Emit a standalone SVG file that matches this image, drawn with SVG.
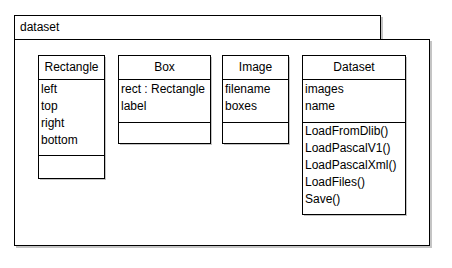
<svg xmlns="http://www.w3.org/2000/svg" width="452" height="268" viewBox="0 0 452 268">
  <style>
    .frame { fill: #ffffff; stroke: #000000; stroke-width: 1; }
    .shadow { fill: #c4c4c4; stroke: none; }
    .sep { stroke: #000000; stroke-width: 1; }
    text { font-family: "Liberation Sans", Arial, sans-serif; font-size: 12px; fill: #000000; }
    .title { text-anchor: middle; }
  </style>
  <rect width="452" height="268" fill="#ffffff"/>

  <!-- package "dataset" -->
  <g id="package-dataset">
    <rect class="shadow" x="16" y="17" width="367" height="24"/>
    <rect class="frame" x="14.5" y="15.5" width="366" height="24"/>
    <rect class="shadow" x="16" y="41" width="416" height="207"/>
    <rect class="frame" x="14.5" y="39.5" width="415" height="206"/>
    <text x="20" y="31">dataset</text>
  </g>

  <!-- class Rectangle -->
  <g id="class-rectangle">
    <rect class="shadow" x="40" y="57" width="66" height="123"/>
    <rect class="frame" x="38.5" y="55.5" width="66" height="123"/>
    <line class="sep" x1="38.5" y1="79.5" x2="104.5" y2="79.5"/>
    <line class="sep" x1="38.5" y1="155.5" x2="104.5" y2="155.5"/>
    <text class="title" x="71.5" y="71">Rectangle</text>
    <text x="41" y="93">left</text>
    <text x="41" y="110">top</text>
    <text x="41" y="127">right</text>
    <text x="41" y="144">bottom</text>
  </g>

  <!-- class Box -->
  <g id="class-box">
    <rect class="shadow" x="120" y="57" width="92" height="88"/>
    <rect class="frame" x="118.5" y="55.5" width="92" height="88"/>
    <line class="sep" x1="118.5" y1="79.5" x2="210.5" y2="79.5"/>
    <line class="sep" x1="118.5" y1="122.5" x2="210.5" y2="122.5"/>
    <text class="title" x="164.5" y="71">Box</text>
    <text x="121" y="93">rect : Rectangle</text>
    <text x="121" y="110">label</text>
  </g>

  <!-- class Image -->
  <g id="class-image">
    <rect class="shadow" x="224" y="57" width="66" height="88"/>
    <rect class="frame" x="222.5" y="55.5" width="66" height="88"/>
    <line class="sep" x1="222.5" y1="79.5" x2="288.5" y2="79.5"/>
    <line class="sep" x1="222.5" y1="122.5" x2="288.5" y2="122.5"/>
    <text class="title" x="255.5" y="71">Image</text>
    <text x="225" y="93">filename</text>
    <text x="225" y="110">boxes</text>
  </g>

  <!-- class Dataset -->
  <g id="class-dataset">
    <rect class="shadow" x="304" y="57" width="103" height="159"/>
    <rect class="frame" x="302.5" y="55.5" width="103" height="159"/>
    <line class="sep" x1="302.5" y1="79.5" x2="405.5" y2="79.5"/>
    <line class="sep" x1="302.5" y1="122.5" x2="405.5" y2="122.5"/>
    <text class="title" x="354" y="71">Dataset</text>
    <text x="305" y="93">images</text>
    <text x="305" y="110">name</text>
    <text x="305" y="135">LoadFromDlib()</text>
    <text x="305" y="152">LoadPascalV1()</text>
    <text x="305" y="169">LoadPascalXml()</text>
    <text x="305" y="186">LoadFiles()</text>
    <text x="305" y="203">Save()</text>
  </g>

  <!-- no associations are drawn between the classes -->
  <g id="connectors"/>
</svg>
